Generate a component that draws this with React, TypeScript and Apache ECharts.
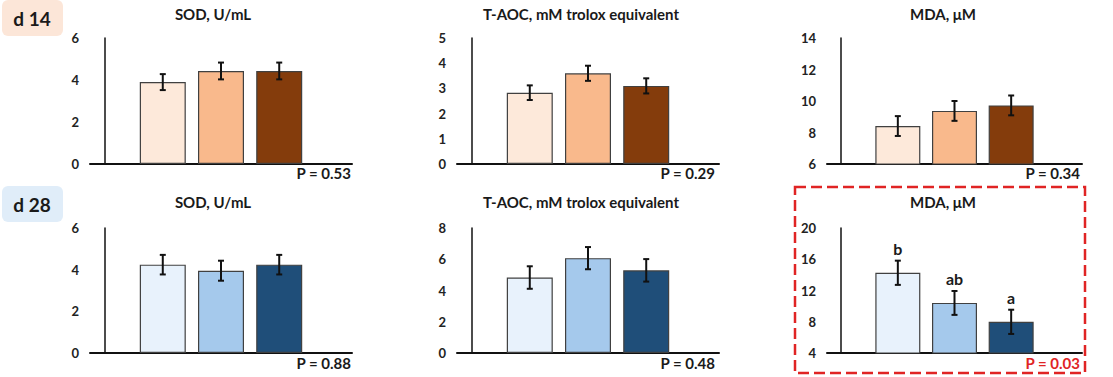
import React, { useEffect, useRef } from "react";
import * as echarts from "echarts";

// ---- data ----
const groupPositions = [1, 2, 3];

const sodD14 = [3.9, 4.43, 4.43];
const sodD14Err = [0.38, 0.4, 0.4];
const taocD14 = [2.83, 3.6, 3.1];
const taocD14Err = [0.29, 0.3, 0.3];
const mdaD14 = [8.41, 9.37, 9.72];
const mdaD14Err = [0.63, 0.63, 0.63];

const sodD28 = [4.24, 3.95, 4.24];
const sodD28Err = [0.47, 0.48, 0.47];
const taocD28 = [4.83, 6.07, 5.29];
const taocD28Err = [0.72, 0.71, 0.72];
const mdaD28 = [14.27, 10.41, 7.99];
const mdaD28Err = [1.55, 1.53, 1.55];
const mdaD28Letters = ["b", "ab", "a"];

const titles = ["SOD, U/mL", "T-AOC, mM trolox equivalent", "MDA, \u03bcM"];
const pD14 = ["P = 0.53", "P = 0.29", "P = 0.34"];
const pD28 = ["P = 0.88", "P = 0.48", "P = 0.03"];
const dayLabels = ["d 14", "d 28"];

// y-axis ranges [min, max, interval]
const yD14 = [
  [0, 6, 2],
  [0, 5, 1],
  [6, 14, 2],
];
const yD28 = [
  [0, 6, 2],
  [0, 8, 2],
  [4, 20, 4],
];

const colorsD14 = ["#fde9da", "#f9b98c", "#843c0c"];
const colorsD28 = ["#e8f2fc", "#a5c9ec", "#1f4e79"];

// ---- layout ----
const FONT = "Lato, 'Open Sans', sans-serif";
const cols = [
  { left: 90, width: 262, titleX: 213, pRight: 351, barW: 46 },
  { left: 457, width: 262, titleX: 581, pRight: 715, barW: 46 },
  { left: 827, width: 255, titleX: 943, pRight: 1080, barW: 45 },
];
const rows = [
  { top: 38, height: 126, titleY: 14, pY: 173 },
  { top: 228, height: 125, titleY: 202, pY: 363 },
];

export default function App() {
  const ref = useRef<HTMLDivElement>(null);

  useEffect(() => {
    const chart = echarts.init(ref.current!, null, { renderer: "svg" });

    const panels: any[] = [];
    const d14vals = [sodD14, taocD14, mdaD14];
    const d14errs = [sodD14Err, taocD14Err, mdaD14Err];
    const d28vals = [sodD28, taocD28, mdaD28];
    const d28errs = [sodD28Err, taocD28Err, mdaD28Err];
    for (let c = 0; c < 3; c++) {
      panels.push({
        row: 0, col: c, values: d14vals[c], errors: d14errs[c], y: yD14[c],
        title: titles[c], p: pD14[c], pColor: "#1a1a1a", colors: colorsD14, letters: null,
      });
    }
    for (let c = 0; c < 3; c++) {
      panels.push({
        row: 1, col: c, values: d28vals[c], errors: d28errs[c], y: yD28[c],
        title: titles[c], p: pD28[c], pColor: c === 2 ? "#e02424" : "#1a1a1a",
        colors: colorsD28, letters: c === 2 ? mdaD28Letters : null,
      });
    }

    const grid: any[] = [];
    const xAxis: any[] = [];
    const yAxis: any[] = [];
    const series: any[] = [];
    const graphic: any[] = [];

    panels.forEach((p, i) => {
      const col = cols[p.col];
      const row = rows[p.row];
      grid.push({ left: col.left, top: row.top, width: col.width, height: row.height });
      xAxis.push({
        type: "value", gridIndex: i, min: -0.25, max: 4.25,
        axisLine: { show: true, onZero: false, lineStyle: { color: "#111", width: 2 } },
        axisTick: { show: false }, axisLabel: { show: false }, splitLine: { show: false },
      });
      yAxis.push({
        type: "value", gridIndex: i, min: p.y[0], max: p.y[1], interval: p.y[2],
        axisLine: { show: true, lineStyle: { color: "#111", width: 1.5 } },
        axisTick: { show: false }, splitLine: { show: false },
        axisLabel: { fontFamily: FONT, fontWeight: "bold", fontSize: 13, color: "#222", margin: 11 },
      });
      series.push({
        type: "bar", xAxisIndex: i, yAxisIndex: i, barWidth: col.barW,
        data: groupPositions.map((x, j) => ({
          value: [x, p.values[j]],
          itemStyle: { color: p.colors[j], borderColor: "#404040", borderWidth: 1.2 },
        })),
      });
      const letters = p.letters;
      series.push({
        type: "custom", xAxisIndex: i, yAxisIndex: i, z: 5,
        data: groupPositions.map((x, j) => [x, p.values[j], p.errors[j], j]),
        renderItem: (params: any, api: any) => {
          const x = api.value(0), m = api.value(1), e = api.value(2), j = api.value(3);
          const top = api.coord([x, m + e]);
          const bot = api.coord([x, m - e]);
          const st = { stroke: "#111", lineWidth: 2 };
          const children: any[] = [
            { type: "line", shape: { x1: top[0], y1: top[1], x2: bot[0], y2: bot[1] }, style: st },
            { type: "line", shape: { x1: top[0] - 3, y1: top[1], x2: top[0] + 3, y2: top[1] }, style: st },
            { type: "line", shape: { x1: bot[0] - 3, y1: bot[1], x2: bot[0] + 3, y2: bot[1] }, style: st },
          ];
          if (letters) {
            children.push({
              type: "text", x: top[0], y: top[1] - 4,
              style: {
                text: letters[j], textAlign: "center", textVerticalAlign: "bottom",
                font: `bold 16px ${FONT}`, fill: "#1a1a1a",
              },
            });
          }
          return { type: "group", children };
        },
      });
      graphic.push({
        type: "text", x: col.titleX, y: row.titleY,
        style: { text: p.title, textAlign: "center", textVerticalAlign: "middle", font: `bold 15px ${FONT}`, fill: "#1a1a1a" },
      });
      graphic.push({
        type: "text", x: col.pRight, y: row.pY,
        style: { text: p.p, textAlign: "right", textVerticalAlign: "middle", font: `bold 15px ${FONT}`, fill: p.pColor },
      });
    });

    // day label boxes
    graphic.push({ type: "rect", shape: { x: 2, y: 0, width: 61, height: 36, r: 6 }, style: { fill: "#fce6d8" } });
    graphic.push({ type: "rect", shape: { x: 2, y: 186, width: 61, height: 36, r: 6 }, style: { fill: "#e0edf9" } });
    graphic.push({
      type: "text", x: 32, y: 18,
      style: { text: dayLabels[0], textAlign: "center", textVerticalAlign: "middle", font: `bold 19px ${FONT}`, fill: "#1a1a1a" },
    });
    graphic.push({
      type: "text", x: 32, y: 204,
      style: { text: dayLabels[1], textAlign: "center", textVerticalAlign: "middle", font: `bold 19px ${FONT}`, fill: "#1a1a1a" },
    });
    // red dashed highlight box
    graphic.push({
      type: "rect", shape: { x: 795, y: 187, width: 290, height: 186 },
      style: { fill: "none", stroke: "#e02424", lineWidth: 2.5, lineDash: [11, 5] }, z: 10,
    });

    chart.setOption({ animation: false, grid, xAxis, yAxis, series, graphic });
    return () => chart.dispose();
  }, []);

  return (
    <div
      ref={ref}
      style={{ position: "fixed", left: 0, top: 0, width: 1113, height: 377, background: "#fff" }}
    />
  );
}
